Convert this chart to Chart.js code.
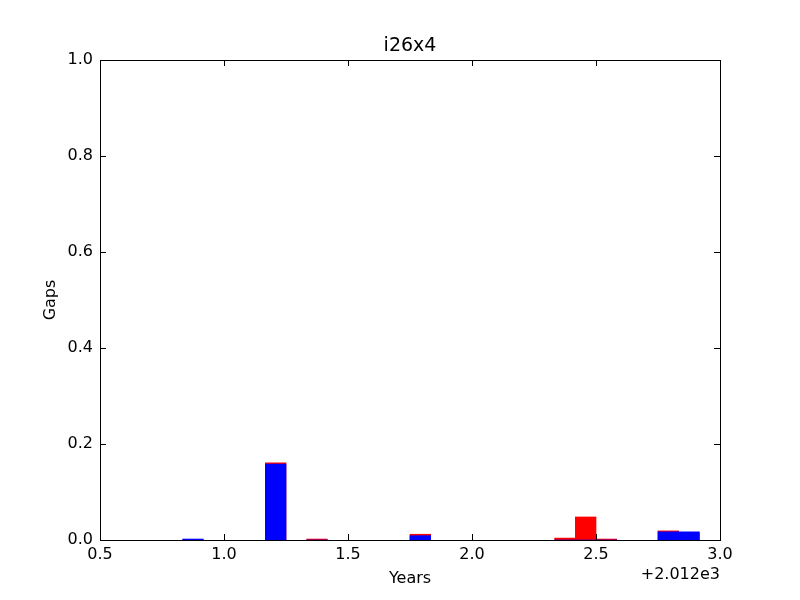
<!DOCTYPE html>
<html>
<head>
<meta charset="utf-8">
<script src="https://cdn.jsdelivr.net/npm/chart.js@4/dist/chart.umd.min.js"></script>
<style>
    html, body { margin: 0; padding: 0; background: #fff; }
    #wrap { width: 800px; height: 600px; }
</style>
</head>
<body>
<div id="wrap"><canvas id="gapsChart" width="800" height="600"></canvas></div>
<script>
// months counted from Jan 2012 (bar spans month m to m+1)
const months = [10, 14, 16, 21, 28, 29, 30, 33, 34];
const blueGaps = [0.002, 0.158, 0, 0.009, 0, 0, 0, 0.017, 0.017];
const redGaps = [0, 0.161, 0.002, 0.012, 0.004, 0.048, 0.002, 0.019, 0.015];
const yTicks = [0, 0.2, 0.4, 0.6, 0.8, 1.0];
const xTicks = [2012.5, 2013.0, 2013.5, 2014.0, 2014.5, 2015.0];
const xOffset = 2012;

const FONT = "'DejaVu Sans', sans-serif";

function toPoints(values) {
    return months.map((m, i) => ({ x: xOffset + (m + 0.5) / 12, y: values[i] }));
}

// frame, inward ticks on all four sides, title and axis labels
const mplFrame = {
    id: "mplFrame",
    afterDraw(chart) {
        const { ctx, chartArea: a, scales } = chart;
        const len = 6;
        ctx.save();
        ctx.strokeStyle = "#000";
        ctx.lineWidth = 1;
        ctx.beginPath();
        yTicks.forEach(v => {
            const y = Math.round(scales.y.getPixelForValue(v)) + 0.5;
            ctx.moveTo(a.left, y); ctx.lineTo(a.left + len, y);
            ctx.moveTo(a.right, y); ctx.lineTo(a.right - len, y);
        });
        xTicks.forEach(v => {
            const x = Math.round(scales.x.getPixelForValue(v)) + 0.5;
            ctx.moveTo(x, a.bottom); ctx.lineTo(x, a.bottom - len);
            ctx.moveTo(x, a.top); ctx.lineTo(x, a.top + len);
        });
        ctx.stroke();
        ctx.strokeRect(Math.round(a.left) + 0.5, Math.round(a.top) + 0.5,
            Math.round(a.right - a.left), Math.round(a.bottom - a.top));

        ctx.fillStyle = "#000";
        ctx.textBaseline = "middle";
        ctx.textAlign = "center";
        ctx.font = "19px " + FONT;
        ctx.fillText("i26x4", (a.left + a.right) / 2, 46);
        ctx.font = "16px " + FONT;
        ctx.fillText("Years", (a.left + a.right) / 2, 579);
        ctx.textAlign = "right";
        ctx.fillText("+2.012e3", a.right, 575);
        ctx.save();
        ctx.translate(51, (a.top + a.bottom) / 2);
        ctx.rotate(-Math.PI / 2);
        ctx.textAlign = "center";
        ctx.fillText("Gaps", 0, 0);
        ctx.restore();
        ctx.restore();
    }
};

new Chart(document.getElementById("gapsChart"), {
    type: "bar",
    data: {
        datasets: [
            { label: "blue", data: toPoints(blueGaps), backgroundColor: "#0000ff" },
            { label: "red", data: toPoints(redGaps), backgroundColor: "#ff0000" }
        ]
    },
    options: {
        responsive: false,
        animation: false,
        events: [],
        datasets: { bar: { grouped: false, categoryPercentage: 1, barPercentage: 1, borderWidth: 0 } },
        layout: { padding: { top: 60, right: 80, left: 0, bottom: 0 } },
        plugins: { legend: { display: false }, title: { display: false }, tooltip: { enabled: false } },
        scales: {
            x: {
                type: "linear",
                offset: false,
                min: xTicks[0],
                max: xTicks[xTicks.length - 1],
                afterFit(scale) { scale.height = 60; },
                afterBuildTicks(scale) { scale.ticks = xTicks.map(v => ({ value: v })); },
                grid: { display: false, drawTicks: false, offset: false },
                border: { display: false },
                ticks: {
                    color: "#000",
                    padding: 5,
                    maxRotation: 0,
                    font: { family: FONT, size: 16 },
                    callback: v => (v - xOffset).toFixed(1)
                }
            },
            y: {
                min: 0,
                max: 1,
                afterFit(scale) { scale.width = 100; },
                afterBuildTicks(scale) { scale.ticks = yTicks.map(v => ({ value: v })); },
                grid: { display: false, drawTicks: false },
                border: { display: false },
                ticks: {
                    color: "#000",
                    padding: 7,
                    font: { family: FONT, size: 16 },
                    callback: v => v.toFixed(1)
                }
            }
        }
    },
    plugins: [mplFrame]
});
</script>
</body>
</html>
